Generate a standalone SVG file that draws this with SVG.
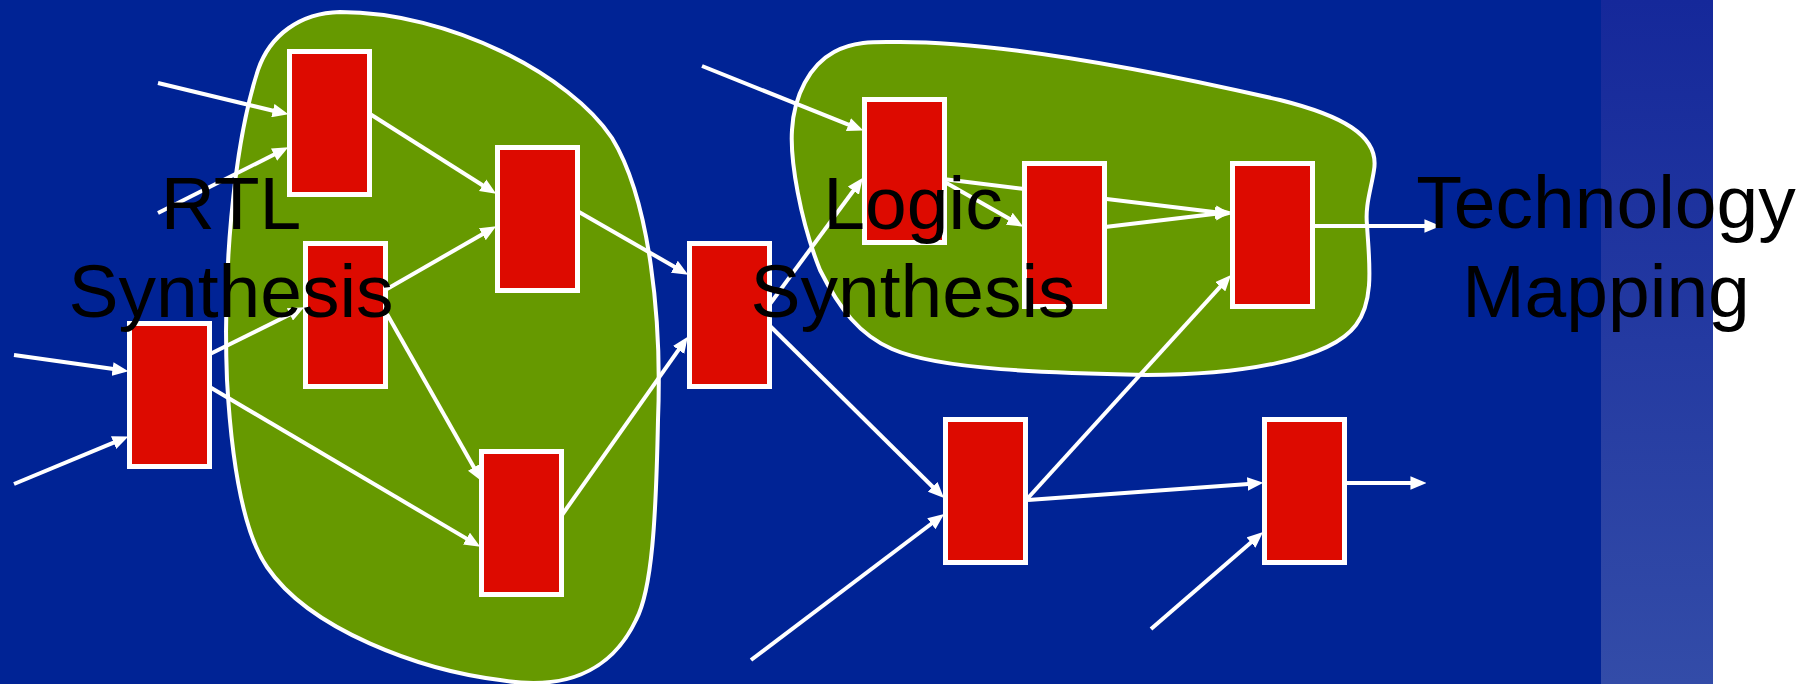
<svg xmlns="http://www.w3.org/2000/svg" width="1804" height="684" viewBox="0 0 1804 684">
  <defs>
    <linearGradient id="stripFade" x1="0" y1="0" x2="0" y2="1">
      <stop offset="0" stop-color="#15289a"/>
      <stop offset="1" stop-color="#334ca8"/>
    </linearGradient>
    <marker id="head" markerUnits="userSpaceOnUse" markerWidth="16" markerHeight="14" viewBox="0 0 14 12" refX="4" refY="6" orient="auto">
      <path d="M0,0 L14,6 L0,12 Z" fill="#ffffff"/>
    </marker>
    <style>
      .blob { fill: #669900; stroke: #ffffff; stroke-width: 4; }
      .node rect { fill: #dd0a00; stroke: #ffffff; stroke-width: 5; }
      .edge { stroke: #ffffff; stroke-width: 4; fill: none; marker-end: url(#head); }
      .label { font-family: "Liberation Sans", Arial, sans-serif; font-size: 75px; fill: #000000; text-anchor: middle; }
    </style>
  </defs>

  <!-- backdrop -->
  <rect x="0" y="0" width="1804" height="684" fill="#ffffff"/>
  <rect x="0" y="0" width="1601" height="684" fill="#002395"/>
  <rect x="1601" y="0" width="112" height="684" fill="url(#stripFade)"/>

  <!-- synthesis regions -->
  <g id="region-rtl">
    <path class="blob" d="M 340,12 C 450,12 570,75 612,138 C 650,200 662,320 658,420 C 656,520 652,590 636,620 C 610,675 560,690 500,680 C 420,670 310,630 267,567 C 245,535 232,470 227,380 C 223,280 232,150 258,70 C 270,35 300,13 340,12 Z"/>
  </g>
  <g id="region-logic">
    <path class="blob" d="M 834,52 C 855,40 880,42 900,42 C 1000,42 1150,70 1280,100 C 1340,115 1380,135 1374,170 C 1371,190 1365,205 1367,225 C 1369,260 1375,300 1356,325 C 1330,360 1240,375 1146,375 C 1050,373 940,370 892,349 C 860,335 840,310 820,270 C 800,220 790,160 792,130 C 794,95 810,65 834,52 Z"/>
  </g>

  <!-- connectors -->
  <g id="connectors">
    <line class="edge" x1="158" y1="83" x2="277.3" y2="111.7"/>
    <line class="edge" x1="158" y1="213" x2="278.1" y2="152.5"/>
    <line class="edge" x1="370" y1="114" x2="486.5" y2="187.7"/>
    <line class="edge" x1="387" y1="289" x2="486.3" y2="232"/>
    <line class="edge" x1="579" y1="212" x2="678.3" y2="269"/>
    <line class="edge" x1="208" y1="355" x2="294" y2="312.4"/>
    <line class="edge" x1="208" y1="386" x2="470.4" y2="540.9"/>
    <line class="edge" x1="387" y1="314" x2="476.1" y2="471.3"/>
    <line class="edge" x1="562" y1="515" x2="681.2" y2="346.2"/>
    <line class="edge" x1="14" y1="355" x2="117.1" y2="369.6"/>
    <line class="edge" x1="14" y1="484" x2="117.8" y2="440.8"/>
    <line class="edge" x1="702" y1="66" x2="852.7" y2="126.3"/>
    <line class="edge" x1="767" y1="308" x2="856.1" y2="187"/>
    <line class="edge" x1="943" y1="179" x2="1220.1" y2="212.8"/>
    <line class="edge" x1="943" y1="181" x2="1013.3" y2="221"/>
    <line class="edge" x1="1105" y1="227" x2="1220.1" y2="213.2"/>
    <line class="edge" x1="1315" y1="226" x2="1429" y2="226"/>
    <line class="edge" x1="767" y1="323" x2="935.9" y2="490"/>
    <line class="edge" x1="751" y1="660" x2="935" y2="521"/>
    <line class="edge" x1="1028" y1="498" x2="1223.3" y2="283.4"/>
    <line class="edge" x1="1028" y1="500" x2="1252" y2="483.7"/>
    <line class="edge" x1="1151" y1="629" x2="1254.4" y2="539.5"/>
    <line class="edge" x1="1347" y1="483" x2="1415" y2="483"/>
  </g>

  <!-- blocks -->
  <g id="n1" class="node"><rect x="289.5" y="51.5" width="80" height="143"/></g>
  <g id="n2" class="node"><rect x="497.5" y="147.5" width="80" height="143"/></g>
  <g id="n3" class="node"><rect x="305.5" y="243.5" width="80" height="143"/></g>
  <g id="n4" class="node"><rect x="129.5" y="323.5" width="80" height="143"/></g>
  <g id="n5" class="node"><rect x="481.5" y="451.5" width="80" height="143"/></g>
  <g id="n6" class="node"><rect x="689.5" y="243.5" width="80" height="143"/></g>
  <g id="n7" class="node"><rect x="864.5" y="99.5" width="80" height="143"/></g>
  <g id="n8" class="node"><rect x="1024.5" y="163.5" width="80" height="143"/></g>
  <g id="n9" class="node"><rect x="1232.5" y="163.5" width="80" height="143"/></g>
  <g id="n10" class="node"><rect x="945.5" y="419.5" width="80" height="143"/></g>
  <g id="n11" class="node"><rect x="1264.5" y="419.5" width="80" height="143"/></g>

  <!-- stage labels -->
  <g id="label-rtl">
    <text class="label" x="231" y="229">RTL</text>
    <text class="label" x="231" y="317">Synthesis</text>
  </g>
  <g id="label-logic">
    <text class="label" x="913" y="229">Logic</text>
    <text class="label" x="913" y="317">Synthesis</text>
  </g>
  <g id="label-mapping">
    <text class="label" x="1606" y="228">Technology</text>
    <text class="label" x="1606" y="317">Mapping</text>
  </g>
</svg>
